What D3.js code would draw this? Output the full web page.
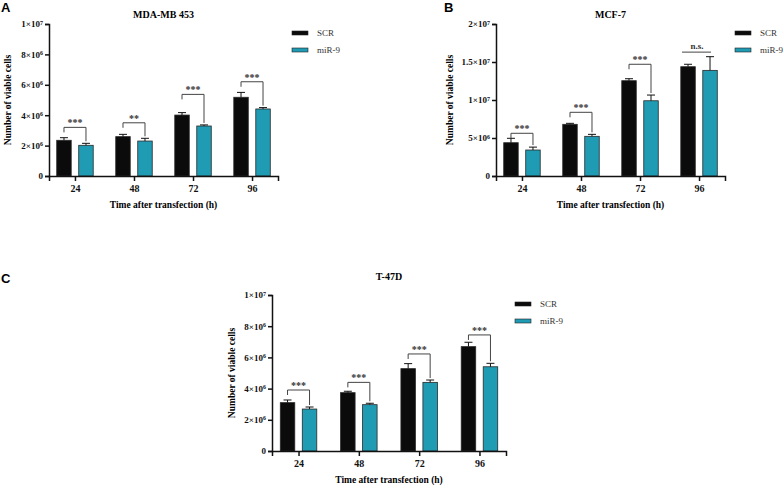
<!DOCTYPE html>
<html>
<head>
<meta charset="utf-8">
<script src="https://cdn.jsdelivr.net/npm/d3@7"></script>
<style>
  body { margin: 0; background: #fff; }
</style>
</head>
<body>
<div class="container"></div>
<script>
// data
var cats = ["24", "48", "72", "96"];
var seriesNames = ["SCR", "miR-9"];

var scrA = [2.35e6, 2.59e6, 4.01e6, 5.18e6];
var scrErrA = [0.17e6, 0.15e6, 0.16e6, 0.32e6];
var mirA = [2.02e6, 2.3e6, 3.29e6, 4.41e6];
var mirErrA = [0.13e6, 0.18e6, 0.07e6, 0.09e6];
var sigA = ["***", "**", "***", "***"];
var bracketA = [3.2e6, 3.5e6, 5.37e6, 6.2e6];
var ticksA = [0, 2e6, 4e6, 6e6, 8e6, 1e7];
var tickLabelsA = ["0", "2×10^6", "4×10^6", "6×10^6", "8×10^6", "1×10^7"];

var scrB = [4.38e6, 6.8e6, 12.54e6, 14.38e6];
var scrErrB = [0.58e6, 0.13e6, 0.26e6, 0.32e6];
var mirB = [3.42e6, 5.22e6, 9.9e6, 13.9e6];
var mirErrB = [0.38e6, 0.26e6, 0.75e6, 1.8e6];
var sigB = ["***", "***", "***", "n.s."];
var bracketB = [5.62e6, 8.38e6, 14.7e6, 16.3e6];
var ticksB = [0, 5e6, 1e7, 1.5e7, 2e7];
var tickLabelsB = ["0", "5×10^6", "1×10^7", "1.5×10^7", "2×10^7"];

var scrC = [3.1e6, 3.74e6, 5.28e6, 6.69e6];
var scrErrC = [0.17e6, 0.09e6, 0.32e6, 0.28e6];
var mirC = [2.69e6, 2.97e6, 4.4e6, 5.4e6];
var mirErrC = [0.13e6, 0.09e6, 0.15e6, 0.22e6];
var sigC = ["***", "***", "***", "***"];
var bracketC = [3.91e6, 4.4e6, 6.22e6, 7.44e6];
var ticksC = ticksA;
var tickLabelsC = tickLabelsA;

var colors = ["#0b0b0b", "#1f9bb4"];
var serif = "'Liberation Serif', 'Times New Roman', serif";

var svg = d3.select(".container").append("svg")
  .attr("width", 784)
  .attr("height", 487)
  .style("font-family", serif);

function panel(p) {
  var g = svg.append("g");
  var x = d3.scalePoint().domain(cats).range([p.x0, p.x1]).padding(0.44);
  var y = d3.scaleLinear().domain([0, p.ymax]).range([p.y0, p.y0 - p.h]);

  // letter
  g.append("text")
    .attr("x", p.lx).attr("y", p.ly)
    .style("font-family", "'Liberation Sans', Arial, sans-serif")
    .style("font-weight", "bold").style("font-size", "13px")
    .text(p.letter);

  // title
  g.append("text")
    .attr("x", (p.x0 + p.x1) / 2).attr("y", p.ty)
    .attr("text-anchor", "middle")
    .style("font-family", serif)
    .style("font-weight", "bold").style("font-size", "10px")
    .text(p.title);

  var bw = 14.5, gap = 7.5;
  var sets = [
    { vals: p.scr, errs: p.scrErr, off: -gap / 2 - bw, c: colors[0] },
    { vals: p.mir, errs: p.mirErr, off: gap / 2, c: colors[1] }
  ];

  sets.forEach(function (s) {
    g.selectAll(null).data(s.vals).enter().append("rect")
      .attr("x", (d, i) => x(cats[i]) + s.off)
      .attr("y", d => y(d))
      .attr("width", bw)
      .attr("height", d => p.y0 - y(d))
      .attr("fill", s.c)
      .attr("stroke", "#2a2a2a")
      .attr("stroke-width", 0.8);
    // error bars (upper only)
    var eb = g.selectAll(null).data(s.vals).enter().append("g")
      .attr("stroke", "#111").attr("stroke-width", 1);
    eb.append("line")
      .attr("x1", (d, i) => x(cats[i]) + s.off + bw / 2)
      .attr("x2", (d, i) => x(cats[i]) + s.off + bw / 2)
      .attr("y1", d => y(d))
      .attr("y2", (d, i) => y(d + s.errs[i]));
    eb.append("line")
      .attr("x1", (d, i) => x(cats[i]) + s.off + bw / 2 - 4)
      .attr("x2", (d, i) => x(cats[i]) + s.off + bw / 2 + 4)
      .attr("y1", (d, i) => y(d + s.errs[i]))
      .attr("y2", (d, i) => y(d + s.errs[i]));
  });

  // significance brackets
  cats.forEach(function (c, i) {
    var xl = x(c) + sets[0].off + bw / 2;
    var xr = x(c) + sets[1].off + bw / 2;
    var yb = y(p.bracket[i]);
    var ns = p.sig[i] === "n.s.";
    var path = ns
      ? "M" + (xl - 6) + "," + yb + "H" + (xr + 1)
      : "M" + xl + "," + (yb + 5) + "V" + yb + "H" + xr +
        "V" + (y(p.mir[i] + p.mirErr[i]) - 2);
    g.append("path").attr("d", path)
      .attr("fill", "none").attr("stroke", "#444").attr("stroke-width", 1);
    g.append("text")
      .attr("x", ns ? (xl + xr) / 2 - 2 : (xl + xr) / 2)
      .attr("y", yb - (ns ? 3 : 1))
      .attr("text-anchor", "middle")
      .style("font-family", serif)
      .style("font-weight", "bold")
      .style("font-size", ns ? "9px" : "10px")
      .style("fill", "#333")
      .text(p.sig[i]);
  });

  // y axis
  var ya = g.append("g")
    .attr("transform", "translate(" + p.x0 + ",0)")
    .call(d3.axisLeft(y).tickValues(p.ticks).tickSize(4).tickPadding(2).tickFormat(""));
  ya.attr("font-family", serif);
  ya.selectAll("path, line").attr("stroke", "#111").attr("stroke-width", 1.5);
  ya.selectAll(".tick").each(function (d, i) {
    var parts = p.tickLabels[i].split("^");
    var t = d3.select(this).select("text")
      .style("font-family", serif)
      .style("font-weight", "bold").style("font-size", "9px").style("fill", "#111")
      .attr("x", -6).attr("dy", "0.32em");
    t.append("tspan").text(parts[0]);
    if (parts[1]) {
      t.append("tspan").attr("dy", "-0.45em").style("font-size", "6px").text(parts[1]);
    }
  });

  // x axis
  var xa = g.append("g")
    .attr("transform", "translate(0," + p.y0 + ")")
    .call(d3.axisBottom(x).tickSizeOuter(0).tickSize(5).tickPadding(4));
  xa.attr("font-family", serif);
  xa.selectAll("path, line").attr("stroke", "#111").attr("stroke-width", 1.5);
  xa.selectAll("text").style("font-family", serif)
    .style("font-weight", "bold").style("font-size", "10px").style("fill", "#111");

  g.append("text")
    .attr("x", (p.x0 + p.x1) / 2).attr("y", p.y0 + 32)
    .attr("text-anchor", "middle")
    .style("font-family", serif)
    .style("font-weight", "bold").style("font-size", "9.5px")
    .text("Time after transfection (h)");

  g.append("text")
    .attr("transform", "translate(" + p.ylx + "," + (p.y0 - p.h / 2) + ") rotate(-90)")
    .attr("text-anchor", "middle")
    .attr("dy", "0.35em")
    .style("font-family", serif)
    .style("font-weight", "bold").style("font-size", "9.5px")
    .text("Number of viable cells");

  // legend
  seriesNames.forEach(function (n, i) {
    g.append("rect")
      .attr("x", p.legx).attr("y", p.legy + i * 17 - 2)
      .attr("width", 16).attr("height", 4)
      .attr("fill", colors[i]).attr("stroke", "#222").attr("stroke-width", 0.6);
    g.append("text")
      .attr("x", p.legx + 25).attr("y", p.legy + i * 17)
      .attr("dy", "0.35em")
      .style("font-family", serif)
      .style("font-size", "9px").style("fill", "#333")
      .text(n);
  });
}

panel({ letter: "A", lx: 1, ly: 12, title: "MDA-MB 453", ty: 18,
  x0: 49, x1: 278, y0: 176, h: 152, ymax: 1e7, ylx: 8,
  scr: scrA, scrErr: scrErrA, mir: mirA, mirErr: mirErrA,
  sig: sigA, bracket: bracketA, ticks: ticksA, tickLabels: tickLabelsA,
  legx: 292, legy: 33 });

panel({ letter: "B", lx: 444, ly: 12, title: "MCF-7", ty: 18,
  x0: 496, x1: 725, y0: 176, h: 152, ymax: 2e7, ylx: 450,
  scr: scrB, scrErr: scrErrB, mir: mirB, mirErr: mirErrB,
  sig: sigB, bracket: bracketB, ticks: ticksB, tickLabels: tickLabelsB,
  legx: 735, legy: 33 });

panel({ letter: "C", lx: 1, ly: 283, title: "T-47D", ty: 280,
  x0: 272, x1: 506, y0: 451, h: 156, ymax: 1e7, ylx: 232,
  scr: scrC, scrErr: scrErrC, mir: mirC, mirErr: mirErrC,
  sig: sigC, bracket: bracketC, ticks: ticksC, tickLabels: tickLabelsC,
  legx: 515, legy: 304 });
</script>
</body>
</html>
